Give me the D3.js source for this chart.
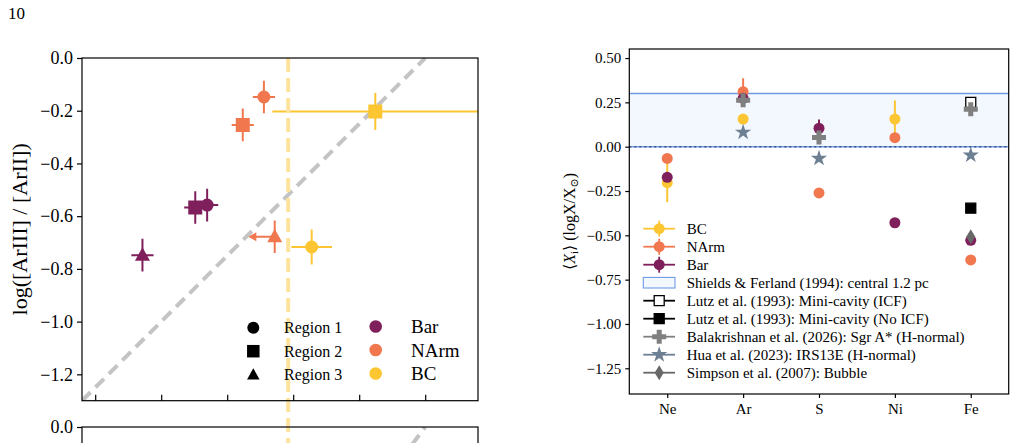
<!DOCTYPE html>
<html>
<head>
<meta charset="utf-8">
<script src="https://cdn.jsdelivr.net/npm/d3@7"></script>
<style>
  body { margin: 0; background: #fff; }
  svg { display: block; font-family: "Liberation Serif", "DejaVu Serif", serif; }
  .axis path, .axis line { stroke: #000; stroke-width: 1.2; }
  .axis text { fill: #000; font-family: "Liberation Serif", serif; }
</style>
</head>
<body>
<div id="chart"></div>
<script>
// ---- DATA ---------------------------------------------------------------
// left panel: line ratios per region (region 1, 2, 3)
const regionNames = ['Region 1', 'Region 2', 'Region 3'];
const groupNames = ['Bar', 'NArm', 'BC'];
const barRatioX = [-0.826, -0.871, -1.071];
const barRatioY = [-0.558, -0.567, -0.748];
const narmRatioX = [-0.611, -0.691, -0.570];
const narmRatioY = [-0.148, -0.254, -0.678];
const bcRatioX = [-0.430, -0.189, null];
const bcRatioY = [-0.717, -0.203, null];
const barErrX = [0.042, 0.042, 0.042];
const barErrY = [0.062, 0.062, 0.062];
const narmErrX = [0.042, 0.042, 0];
const narmErrY = [0.062, 0.062, 0.062];
const bcErrX = [0.077, 0.39, 0];
const bcErrY = [0.066, 0.07, 0];
const narmUpperLimitX = [false, false, true];
const bcLineX = -0.519;
const leftYTicks = [0.0, -0.2, -0.4, -0.6, -0.8, -1.0, -1.2];
const leftXTicks = [-1.25, -1.0, -0.75, -0.5, -0.25, 0.0];

// right panel: abundances per element
const elements = ['Ne', 'Ar', 'S', 'Ni', 'Fe'];
const bcAbund = [-0.203, 0.156, null, 0.156, null];
const bcAbundErr = [0.11, 0, 0, 0.105, 0];
const narmAbund = [-0.066, 0.310, -0.261, 0.051, -0.639];
const narmAbundErr = [0, 0.076, 0, 0, 0];
const barAbund = [-0.173, 0.273, 0.104, -0.429, -0.528];
const barAbundErr = [0, 0, 0.05, 0, 0];
const lutzIcf = [null, null, null, null, 0.250];
const lutzNoIcf = [null, null, null, null, -0.347];
const balakrishnan = [null, 0.262, 0.052, null, 0.211];
const hua = [null, 0.081, -0.066, null, -0.048];
const simpson = [null, null, null, null, -0.508];
const shieldsBand = [0.0, 0.30];
const rightYTicks = [0.5, 0.25, 0.0, -0.25, -0.5, -0.75, -1.0, -1.25];

const colors = {Bar: '#7f1f5b', NArm: '#f1774f', BC: '#fcc633'};

// ---- SVG ----------------------------------------------------------------
const W = 1016, H = 443;
const svg = d3.select('#chart').append('svg')
  .attr('width', W).attr('height', H);

svg.append('text').attr('x', 8).attr('y', 19)
  .attr('font-size', 17).text('10');

// marker shapes
function markerPath(shape, size) {
  const s = size / 2;
  if (shape === 'circle') return d3.symbol(d3.symbolCircle, Math.PI * s * s)();
  if (shape === 'square') return `M${-s},${-s}H${s}V${s}H${-s}Z`;
  if (shape === 'triangle') return `M0,${-s * 1.05}L${s},${s * 0.75}L${-s},${s * 0.75}Z`;
  if (shape === 'plus') {
    const a = s * 0.36;
    return `M${-a},${-s}H${a}V${-a}H${s}V${a}H${a}V${s}H${-a}V${a}H${-s}V${-a}H${-a}Z`;
  }
  if (shape === 'star') return d3.symbol(d3.symbolStar, size * size * 0.42)();
  if (shape === 'thin_diamond') return `M0,${-s}L${s * 0.6},0L0,${s}L${-s * 0.6},0Z`;
  return '';
}

// ---- LEFT PANEL ---------------------------------------------------------
function leftPanel() {
  const L = {left: 82, top: 58, right: 478, bottom: 400.7};
  const x = d3.scaleLinear().domain([-1.3, 0.2]).range([L.left, L.right]);
  const y = d3.scaleLinear().domain([-1.3, 0.0]).range([L.bottom, L.top]);

  const g = svg.append('g');
  g.append('clipPath').attr('id', 'clipL').append('rect')
    .attr('x', L.left).attr('y', L.top)
    .attr('width', L.right - L.left).attr('height', L.bottom - L.top);
  const plot = g.append('g').attr('clip-path', 'url(#clipL)');

  // vertical BC line (spans both panels) and 1:1 line
  g.append('line')
    .attr('x1', x(bcLineX)).attr('x2', x(bcLineX))
    .attr('y1', L.top).attr('y2', H)
    .attr('stroke', '#fde39b').attr('stroke-width', 4)
    .attr('stroke-dasharray', '14,6');
  plot.append('line')
    .attr('x1', x(-1.3)).attr('y1', y(-1.3))
    .attr('x2', x(0)).attr('y2', y(0))
    .attr('stroke', '#c4c4c4').attr('stroke-width', 4)
    .attr('stroke-dasharray', '12,7');

  const shapes = ['circle', 'square', 'triangle'];
  const groups = [
    {name: 'Bar', xs: barRatioX, ys: barRatioY, ex: barErrX, ey: barErrY, lim: [false, false, false]},
    {name: 'NArm', xs: narmRatioX, ys: narmRatioY, ex: narmErrX, ey: narmErrY, lim: narmUpperLimitX},
    {name: 'BC', xs: bcRatioX, ys: bcRatioY, ex: bcErrX, ey: bcErrY, lim: [false, false, false]}
  ];
  groups.forEach(gr => {
    const c = colors[gr.name];
    gr.xs.forEach((vx, i) => {
      if (vx === null) return;
      const vy = gr.ys[i];
      if (gr.ex[i] > 0) {
        plot.append('line')
          .attr('x1', x(vx - gr.ex[i])).attr('x2', x(vx + gr.ex[i]))
          .attr('y1', y(vy)).attr('y2', y(vy))
          .attr('stroke', c).attr('stroke-width', 2);
      }
      plot.append('line')
        .attr('x1', x(vx)).attr('x2', x(vx))
        .attr('y1', y(vy - gr.ey[i])).attr('y2', y(vy + gr.ey[i]))
        .attr('stroke', c).attr('stroke-width', 2);
      if (gr.lim[i]) {
        // upper limit arrow to the left
        const x0 = x(vx), x1 = x(vx - 0.1), yy = y(vy);
        plot.append('line').attr('x1', x0).attr('x2', x1 + 6)
          .attr('y1', yy).attr('y2', yy)
          .attr('stroke', c).attr('stroke-width', 2);
        plot.append('path')
          .attr('d', `M${x1},${yy}L${x1 + 8},${yy - 4.5}L${x1 + 8},${yy + 4.5}Z`)
          .attr('fill', c);
      }
      const size = shapes[i] === 'circle' ? 13 : shapes[i] === 'square' ? 14 : 15;
      plot.append('path')
        .attr('d', markerPath(shapes[i], size))
        .attr('transform', `translate(${x(vx)},${y(vy)})`)
        .attr('fill', c);
    });
  });

  // frame
  g.append('rect')
    .attr('x', L.left).attr('y', L.top)
    .attr('width', L.right - L.left).attr('height', L.bottom - L.top)
    .attr('fill', 'none').attr('stroke', '#000').attr('stroke-width', 1.2);

  // axes
  const yAxis = d3.axisLeft(y).tickValues(leftYTicks)
    .tickFormat(d3.format('.1f')).tickSize(5).tickPadding(4);
  g.append('g').attr('class', 'axis')
    .attr('transform', `translate(${L.left},0)`)
    .call(yAxis)
    .call(a => a.select('.domain').remove())
    .selectAll('text').attr('font-size', 18);

  const xAxis = d3.axisTop(x).tickValues(leftXTicks).tickFormat('').tickSize(6);
  g.append('g').attr('class', 'axis')
    .attr('transform', `translate(0,${L.bottom})`)
    .call(xAxis)
    .call(a => a.select('.domain').remove());

  g.append('text')
    .attr('transform', `translate(27,${(L.top + L.bottom) / 2}) rotate(-90)`)
    .attr('text-anchor', 'middle').attr('font-size', 22)
    .text('log([ArIII] / [ArII])');

  // legend
  const leg = g.append('g');
  regionNames.forEach((r, i) => {
    const yy = 327.7 + i * 23.5;
    leg.append('path').attr('d', markerPath(shapes[i], i === 0 ? 12 : 12.5))
      .attr('transform', `translate(253.3,${yy})`).attr('fill', '#000');
    leg.append('text').attr('x', 284).attr('y', yy + 5.5)
      .attr('font-size', 16).text(r);
  });
  groupNames.forEach((n, i) => {
    const yy = 326.5 + i * 23.5;
    leg.append('circle').attr('cx', 375.7).attr('cy', yy).attr('r', 6.3)
      .attr('fill', colors[n]);
    leg.append('text').attr('x', 411).attr('y', yy + 6.5)
      .attr('font-size', 19).text(n);
  });

  // lower panel (cut off at bottom of figure)
  const B = {top: 427, bottom: 800};
  const yb = d3.scaleLinear().domain([-1, 0]).range([B.top + 353, B.top]);
  const gb = svg.append('g');
  gb.append('clipPath').attr('id', 'clipB').append('rect')
    .attr('x', L.left).attr('y', B.top)
    .attr('width', L.right - L.left).attr('height', B.bottom - B.top);
  const pb = gb.append('g').attr('clip-path', 'url(#clipB)');
  pb.append('line')
    .attr('x1', x(-1.3)).attr('y1', yb(-1.3))
    .attr('x2', x(0)).attr('y2', yb(0))
    .attr('stroke', '#c4c4c4').attr('stroke-width', 4)
    .attr('stroke-dasharray', '12,7');
  gb.append('rect')
    .attr('x', L.left).attr('y', B.top)
    .attr('width', L.right - L.left).attr('height', B.bottom - B.top)
    .attr('fill', 'none').attr('stroke', '#000').attr('stroke-width', 1.2);
  gb.append('g').attr('class', 'axis')
    .attr('transform', `translate(${L.left},0)`)
    .call(d3.axisLeft(yb).tickValues([0.0]).tickFormat(d3.format('.1f')).tickSize(5).tickPadding(4))
    .call(a => a.select('.domain').remove())
    .selectAll('text').attr('font-size', 18);
}

// ---- RIGHT PANEL --------------------------------------------------------
function rightPanel() {
  const R = {left: 629.3, top: 49, right: 1008.7, bottom: 394};
  const x = d3.scaleLinear().domain([-0.5, 4.5]).range([R.left, R.right]);
  const y = d3.scaleLinear().domain([-1.395, 0.551]).range([R.bottom, R.top]);
  const g = svg.append('g');

  // Shields & Ferland band
  g.append('rect')
    .attr('x', R.left).attr('y', y(shieldsBand[1]))
    .attr('width', R.right - R.left).attr('height', y(shieldsBand[0]) - y(shieldsBand[1]))
    .attr('fill', '#f3f7fe');
  g.append('line').attr('x1', R.left).attr('x2', R.right)
    .attr('y1', y(shieldsBand[1])).attr('y2', y(shieldsBand[1]))
    .attr('stroke', '#6f9be6').attr('stroke-width', 1.3);
  g.append('line').attr('x1', R.left).attr('x2', R.right)
    .attr('y1', y(shieldsBand[0])).attr('y2', y(shieldsBand[0]))
    .attr('stroke', '#6f9be6').attr('stroke-width', 1.5);
  g.append('line').attr('x1', R.left).attr('x2', R.right)
    .attr('y1', y(0)).attr('y2', y(0))
    .attr('stroke', '#3c4f78').attr('stroke-width', 1.4)
    .attr('stroke-dasharray', '2,3');

  const measured = [
    {name: 'BC', vals: bcAbund, errs: bcAbundErr},
    {name: 'NArm', vals: narmAbund, errs: narmAbundErr},
    {name: 'Bar', vals: barAbund, errs: barAbundErr}
  ];
  measured.forEach(m => {
    const c = colors[m.name];
    m.vals.forEach((v, i) => {
      if (v === null) return;
      if (m.errs[i] > 0) {
        g.append('line').attr('x1', x(i)).attr('x2', x(i))
          .attr('y1', y(v - m.errs[i])).attr('y2', y(v + m.errs[i]))
          .attr('stroke', c).attr('stroke-width', 2);
      }
      g.append('circle').attr('cx', x(i)).attr('cy', y(v)).attr('r', 5.5)
        .attr('fill', c);
    });
  });

  const refs = [
    {vals: lutzIcf, shape: 'square', size: 10, fill: '#fff', stroke: '#000'},
    {vals: lutzNoIcf, shape: 'square', size: 10, fill: '#000', stroke: '#000'},
    {vals: balakrishnan, shape: 'plus', size: 14, fill: '#808080', stroke: 'none'},
    {vals: hua, shape: 'star', size: 14, fill: '#6d7f93', stroke: 'none'},
    {vals: simpson, shape: 'thin_diamond', size: 15, fill: '#686868', stroke: 'none'}
  ];
  refs.forEach(r => {
    r.vals.forEach((v, i) => {
      if (v === null) return;
      g.append('path').attr('d', markerPath(r.shape, r.size))
        .attr('transform', `translate(${x(i)},${y(v)})`)
        .attr('fill', r.fill).attr('stroke', r.stroke).attr('stroke-width', 1.3);
    });
  });

  // frame
  g.append('rect')
    .attr('x', R.left).attr('y', R.top)
    .attr('width', R.right - R.left).attr('height', R.bottom - R.top)
    .attr('fill', 'none').attr('stroke', '#000').attr('stroke-width', 1.2);

  g.append('g').attr('class', 'axis')
    .attr('transform', `translate(${R.left},0)`)
    .call(d3.axisLeft(y).tickValues(rightYTicks).tickFormat(d3.format('.2f')).tickSize(4).tickPadding(4))
    .call(a => a.select('.domain').remove())
    .selectAll('text').attr('font-size', 15);

  g.append('g').attr('class', 'axis')
    .attr('transform', `translate(0,${R.bottom})`)
    .call(d3.axisBottom(x).tickValues(d3.range(elements.length))
      .tickFormat(i => elements[i]).tickSize(4).tickPadding(5))
    .call(a => a.select('.domain').remove())
    .selectAll('text').attr('font-size', 15);

  // y label
  const lab = g.append('text')
    .attr('transform', `translate(575,${(R.top + R.bottom) / 2}) rotate(-90)`)
    .attr('text-anchor', 'middle').attr('font-size', 16);
  lab.append('tspan').text('⟨');
  lab.append('tspan').attr('font-style', 'italic').text('X');
  lab.append('tspan').attr('font-size', 11).attr('dy', 3).text('i');
  lab.append('tspan').attr('dy', -3).text('⟩ (logX/X');
  lab.append('tspan').attr('font-size', 11).attr('dy', 3).text('⊙');
  lab.append('tspan').attr('dy', -3).text(')');

  // legend
  const entries = [
    {label: 'BC', kind: 'err', color: colors.BC},
    {label: 'NArm', kind: 'err', color: colors.NArm},
    {label: 'Bar', kind: 'err', color: colors.Bar},
    {label: 'Shields & Ferland (1994): central 1.2 pc', kind: 'band'},
    {label: 'Lutz et al. (1993): Mini-cavity (ICF)', kind: 'ref', r: refs[0], color: '#000'},
    {label: 'Lutz et al. (1993): Mini-cavity (No ICF)', kind: 'ref', r: refs[1], color: '#000'},
    {label: 'Balakrishnan et al. (2026): Sgr A* (H-normal)', kind: 'ref', r: refs[2], color: '#808080'},
    {label: 'Hua et al. (2023): IRS13E (H-normal)', kind: 'ref', r: refs[3], color: '#6d7f93'},
    {label: 'Simpson et al. (2007): Bubble', kind: 'ref', r: refs[4], color: '#686868'}
  ];
  const lx0 = 643.3, lx1 = 675, lmx = 659.2, ltx = 686.7;
  entries.forEach((e, i) => {
    const yy = 228.7 + i * 18;
    if (e.kind === 'err') {
      g.append('line').attr('x1', lx0).attr('x2', lx1).attr('y1', yy).attr('y2', yy)
        .attr('stroke', e.color).attr('stroke-width', 1.8);
      g.append('line').attr('x1', lmx).attr('x2', lmx).attr('y1', yy - 8).attr('y2', yy + 8)
        .attr('stroke', e.color).attr('stroke-width', 1.8);
      g.append('circle').attr('cx', lmx).attr('cy', yy).attr('r', 5.5).attr('fill', e.color);
    } else if (e.kind === 'band') {
      g.append('rect').attr('x', lx0).attr('y', yy - 5.3)
        .attr('width', lx1 - lx0).attr('height', 10.6)
        .attr('fill', '#f3f7fe').attr('stroke', '#6f9be6').attr('stroke-width', 1.1);
    } else {
      g.append('line').attr('x1', lx0).attr('x2', lx1).attr('y1', yy).attr('y2', yy)
        .attr('stroke', e.color).attr('stroke-width', 1.8);
      g.append('path').attr('d', markerPath(e.r.shape, e.r.size))
        .attr('transform', `translate(${lmx},${yy})`)
        .attr('fill', e.r.fill).attr('stroke', e.r.stroke).attr('stroke-width', 1.3);
    }
    g.append('text').attr('x', ltx).attr('y', yy + 5)
      .attr('font-size', 15).text(e.label);
  });
}

leftPanel();
rightPanel();
</script>
</body>
</html>
